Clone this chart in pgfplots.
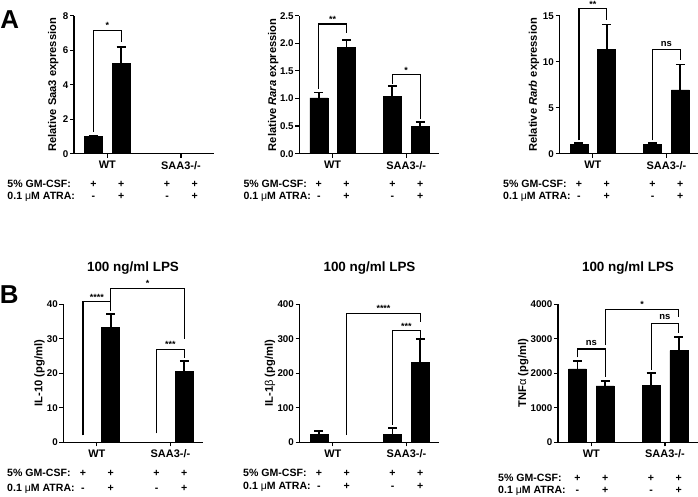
\documentclass[border=0pt]{standalone}
\usepackage{pgfplots}
\pgfplotsset{compat=1.18}
\usepackage{fontspec}
\setmainfont{Liberation Sans}

\newcommand\fs[1]{\fontsize{#1}{#1}\selectfont\bfseries}

\tikzset{
  brk/.style={line width=1.1bp, black},
  sig/.style={font=\fs{9}, anchor=base, inner sep=0pt, yshift=1.5bp},
  nssig/.style={font=\fs{9.5}, anchor=base, inner sep=0pt, yshift=3.5bp},
  rowtxt/.style={font=\fs{10.6}, anchor=base, inner sep=0pt},
  rowlab/.style={font=\fs{10.6}, anchor=base west, inner sep=0pt},
  ylab/.style={font=\fs{11.2}, rotate=90, anchor=center, inner sep=0pt},
}

\pgfplotsset{
  panel/.style={
    scale only axis, width=140bp, height=138bp,
    anchor=south west,
    xmin=0, xmax=5.1, ymin=0,
    axis x line*=bottom, axis y line*=left,
    axis line style={line width=1.4bp},
    tick style={line width=1.2bp, black},
    major tick length=4bp, tick align=outside,
    xtick={1.215,3.895}, xticklabels={WT,SAA3-/-},
    x tick label style={font=\fs{11}},
    y tick label style={font=\fs{9.8}, inner sep=1.5bp},
    /pgf/number format/assume math mode=true,
    /pgf/number format/set thousands separator={},
    clip=false,
    ybar, bar width=0.655,
  },
  barplot/.style={fill=black, draw=black, line width=0.5bp,
    error bars/.cd, y dir=plus, y explicit,
    error bar style={line width=1.8bp, black},
    error mark=|,
    error mark options={line width=1.8bp, mark size=4.5bp, black}},
}

% +/- rows below each axis: #1 = GM-CSF baseline offset, #2 = ATRA baseline offset
\newcommand\pmrows[2]{%
  \node[rowtxt] at ([yshift=-#1]axis cs:0.71,0) {+};
  \node[rowtxt] at ([yshift=-#1]axis cs:1.72,0) {+};
  \node[rowtxt] at ([yshift=-#1]axis cs:3.39,0) {+};
  \node[rowtxt] at ([yshift=-#1]axis cs:4.40,0) {+};
  \node[rowtxt] at ([yshift=-#2]axis cs:0.71,0) {-};
  \node[rowtxt] at ([yshift=-#2]axis cs:1.72,0) {+};
  \node[rowtxt] at ([yshift=-#2]axis cs:3.39,0) {-};
  \node[rowtxt] at ([yshift=-#2]axis cs:4.40,0) {+};
}

\begin{document}
\begin{tikzpicture}
\useasboundingbox (0,0) rectangle (698bp,497bp);

% ---------------- Panel letters ----------------
\node[font=\fs{26}, inner sep=0pt] at (9.7bp,477.3bp) {A};
\node[font=\fs{26}, inner sep=0pt] at (9.2bp,202.8bp) {B};

% ---------------- A1: Saa3 ----------------
\begin{axis}[panel, at={(74bp,343.3bp)}, ymax=8, ytick={0,2,4,6,8}]
\addplot[barplot] table[x=x, y=y, y error=e, row sep=\\]{
x y e\\ 0.71 0.99 0.06\\ 1.72 5.24 0.93\\};
\draw[brk] (axis cs:0.71,1.28) |- (axis cs:1.72,7.15) -- (axis cs:1.72,6.45);
\node[sig] at (axis cs:1.215,7.15) {*};
\pmrows{34.3bp}{45.8bp}
\end{axis}
\node[ylab] at (53.3bp,412.15bp) {Relative Saa3 expression};

% ---------------- A2: Rara ----------------
\begin{axis}[panel, at={(299.3bp,343.3bp)}, ymax=2.5, ytick={0,0.5,1,1.5,2,2.5},
  yticklabel style={/pgf/number format/.cd, fixed, fixed zerofill, precision=1}]
\addplot[barplot] table[x=x, y=y, y error=e, row sep=\\]{
x y e\\ 0.71 1.01 0.10\\ 1.72 1.92 0.14\\ 3.39 1.04 0.18\\ 4.40 0.49 0.08\\};
\draw[brk] (axis cs:0.71,1.18) |- (axis cs:1.72,2.35) -- (axis cs:1.72,2.18);
\node[sig] at (axis cs:1.215,2.35) {**};
\draw[brk] (axis cs:3.39,1.27) |- (axis cs:4.40,1.43) -- (axis cs:4.40,0.62);
\node[sig] at (axis cs:3.895,1.43) {*};
\pmrows{34.3bp}{45.8bp}
\end{axis}
\node[ylab] at (273.3bp,412.15bp) {Relative \textit{Rara} expression};

% ---------------- A3: Rarb ----------------
\begin{axis}[panel, at={(559.5bp,343.3bp)}, ymax=15, ytick={0,5,10,15}]
\addplot[barplot] table[x=x, y=y, y error=e, row sep=\\]{
x y e\\ 0.71 1.02 0.18\\ 1.72 11.37 2.68\\ 3.39 1.02 0.18\\ 4.40 6.94 2.76\\};
\draw[brk] (axis cs:0.71,1.45) |- (axis cs:1.72,15.75) -- (axis cs:1.72,14.5);
\node[sig, yshift=-0.5bp] at (axis cs:1.215,15.75) {**};
\draw[brk] (axis cs:3.39,1.45) |- (axis cs:4.40,11.3) -- (axis cs:4.40,10.2);
\node[nssig] at (axis cs:3.895,11.3) {ns};
\pmrows{34.3bp}{45.8bp}
\end{axis}
\node[ylab] at (534bp,412.15bp) {Relative \textit{Rarb} expression};

% row labels A
\node[rowlab] at (7.3bp,309bp) {5\% GM-CSF:};
\node[rowlab] at (7.3bp,297.5bp) {0.1 {\mdseries μ}M ATRA:};
\node[rowlab] at (243.3bp,309bp) {5\% GM-CSF:};
\node[rowlab] at (243.3bp,297.5bp) {0.1 {\mdseries μ}M ATRA:};
\node[rowlab] at (503bp,309bp) {5\% GM-CSF:};
\node[rowlab] at (503bp,297.5bp) {0.1 {\mdseries μ}M ATRA:};

% ---------------- B titles ----------------
\node[font=\fs{13.5}] at (133bp,229bp) {100 ng/ml LPS};
\node[font=\fs{13.5}] at (369.5bp,229bp) {100 ng/ml LPS};
\node[font=\fs{13.5}] at (628bp,229bp) {100 ng/ml LPS};

% ---------------- B1: IL-10 ----------------
\begin{axis}[panel, at={(63.5bp,54.7bp)}, ymax=40, ytick={0,10,20,30,40}]
\addplot[barplot] table[x=x, y=y, y error=e, row sep=\\]{
x y e\\ 1.72 33.4 3.9\\ 4.40 20.6 2.9\\};
\draw[brk] (axis cs:0.71,2.0) |- (axis cs:1.72,40.8) -- (axis cs:1.72,38.2);
\node[sig] at (axis cs:1.215,40.8) {****};
\draw[brk] (axis cs:1.72,40.8) |- (axis cs:4.40,44.7) -- (axis cs:4.40,29.8);
\node[sig] at (axis cs:3.06,44.7) {*};
\draw[brk] (axis cs:3.39,2.6) |- (axis cs:4.40,26.9) -- (axis cs:4.40,24.5);
\node[sig] at (axis cs:3.895,26.9) {***};
\pmrows{34.5bp}{48.9bp}
\end{axis}
\node[ylab] at (39.5bp,123.7bp) {IL-10 (pg/ml)};

% ---------------- B2: IL-1beta ----------------
\begin{axis}[panel, at={(299.5bp,54.7bp)}, ymax=400, ytick={0,100,200,300,400}]
\addplot[barplot] table[x=x, y=y, y error=e, row sep=\\]{
x y e\\ 0.71 23 10\\ 3.39 23 18\\ 4.40 232 67\\};
\draw[brk] (axis cs:1.72,21) |- (axis cs:4.40,374) -- (axis cs:4.40,348);
\node[sig] at (axis cs:3.06,374) {****};
\draw[brk] (axis cs:3.39,50) |- (axis cs:4.40,323) -- (axis cs:4.40,303);
\node[sig] at (axis cs:3.895,323) {***};
\pmrows{34.5bp}{47.2bp}
\end{axis}
\node[ylab] at (270bp,123.7bp) {IL-1{\mdseries β} (pg/ml)};

% ---------------- B3: TNFalpha ----------------
\begin{axis}[panel, at={(558bp,54.7bp)}, ymax=4000, ytick={0,1000,2000,3000,4000}]
\addplot[barplot] table[x=x, y=y, y error=e, row sep=\\]{
x y e\\ 0.71 2126 241\\ 1.72 1633 154\\ 3.39 1643 357\\ 4.40 2657 386\\};
\draw[brk] (axis cs:0.71,2460) |- (axis cs:1.72,2705) -- (axis cs:1.72,1880);
\node[nssig] at (axis cs:1.215,2705) {ns};
\draw[brk] (axis cs:1.72,2820) |- (axis cs:4.40,3855) -- (axis cs:4.40,3640);
\node[sig] at (axis cs:3.06,3855) {*};
\draw[brk] (axis cs:3.39,2100) |- (axis cs:4.40,3450) -- (axis cs:4.40,3180);
\node[nssig] at (axis cs:3.895,3450) {ns};
\pmrows{39.5bp}{51.2bp}
\end{axis}
\node[ylab] at (523.3bp,123.7bp) {TNF{\mdseries α} (pg/ml)};

% row labels B
\node[rowlab] at (7bp,20.2bp) {5\% GM-CSF:};
\node[rowlab] at (7bp,5.8bp) {0.1 {\mdseries μ}M ATRA:};
\node[rowlab] at (243bp,20.2bp) {5\% GM-CSF:};
\node[rowlab] at (243bp,7.5bp) {0.1 {\mdseries μ}M ATRA:};
\node[rowlab] at (498bp,15.2bp) {5\% GM-CSF:};
\node[rowlab] at (498bp,3.5bp) {0.1 {\mdseries μ}M ATRA:};
\end{tikzpicture}
\end{document}
